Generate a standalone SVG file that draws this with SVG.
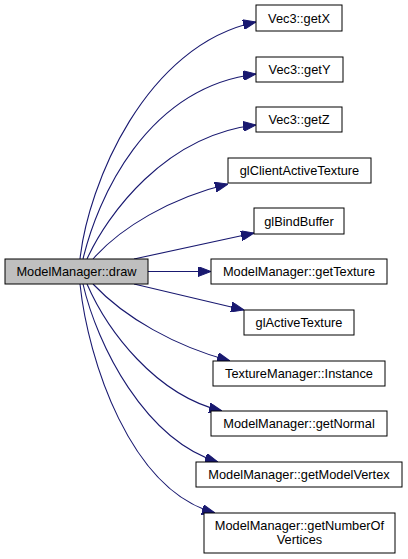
<svg xmlns="http://www.w3.org/2000/svg" width="408" height="559" viewBox="0 0 408 559">
<style>
.n rect{fill:#fff;stroke:#000;stroke-width:1}
.n.cur rect{fill:#bfbfbf}
.n text{font-family:"Liberation Sans",Arial,sans-serif;font-size:12.8px;text-anchor:middle;fill:#000}
.e path{fill:none;stroke:#191970;stroke-width:1.1}
</style>
<defs>
<marker id="ah" viewBox="0 0 13 10" refX="13" refY="5" markerWidth="13" markerHeight="10" markerUnits="userSpaceOnUse" orient="auto">
<path d="M0,0 L13,5 L0,10 Z" fill="#191970" stroke="#191970"/>
</marker>
</defs>
<g id="edges" class="e">
<path marker-end="url(#ah)" d="M80,259 C88,185 145,45 256,22"/>
<path marker-end="url(#ah)" d="M83,259 C97,200 145,88 256,74"/>
<path marker-end="url(#ah)" d="M87,259 C107,215 165,135 256,125"/>
<path marker-end="url(#ah)" d="M93,259 C120,228 170,198 228,184"/>
<path marker-end="url(#ah)" d="M134,259 L254,233"/>
<path marker-end="url(#ah)" d="M148,271.5 L211,271.5"/>
<path marker-end="url(#ah)" d="M134,284 L244,310"/>
<path marker-end="url(#ah)" d="M93,284 C125,318 175,346 230,361"/>
<path marker-end="url(#ah)" d="M87,284 C107,330 155,395 222,411"/>
<path marker-end="url(#ah)" d="M83,284 C97,345 145,440 218,462"/>
<path marker-end="url(#ah)" d="M80,284 C88,360 130,490 215,513"/>
</g>
<g id="draw" class="n cur"><rect x="5" y="259" width="143" height="25"/><text x="76.5" y="276">ModelManager::draw</text></g>
<g id="getX" class="n"><rect x="256" y="5" width="86" height="26"/><text x="299" y="23">Vec3::getX</text></g>
<g id="getY" class="n"><rect x="256" y="57" width="87" height="25"/><text x="299.5" y="74">Vec3::getY</text></g>
<g id="getZ" class="n"><rect x="256" y="107" width="86" height="25"/><text x="299" y="124">Vec3::getZ</text></g>
<g id="glClientActiveTexture" class="n"><rect x="228" y="158" width="143" height="25"/><text x="299.5" y="175">glClientActiveTexture</text></g>
<g id="glBindBuffer" class="n"><rect x="254" y="208" width="90" height="26"/><text x="299" y="226">glBindBuffer</text></g>
<g id="getTexture" class="n"><rect x="211" y="259" width="176" height="25"/><text x="299" y="276">ModelManager::getTexture</text></g>
<g id="glActiveTexture" class="n"><rect x="244" y="310" width="110" height="25"/><text x="299" y="327">glActiveTexture</text></g>
<g id="TextureManagerInstance" class="n"><rect x="213" y="361" width="172" height="25"/><text x="299" y="378">TextureManager::Instance</text></g>
<g id="getNormal" class="n"><rect x="211" y="411" width="176" height="25"/><text x="299" y="428">ModelManager::getNormal</text></g>
<g id="getModelVertex" class="n"><rect x="196" y="462" width="206" height="25"/><text x="299" y="479">ModelManager::getModelVertex</text></g>
<g id="getNumberOfVertices" class="n"><rect x="204" y="513" width="191" height="40"/><text x="299.5" y="530">ModelManager::getNumberOf</text><text x="299.5" y="544">Vertices</text></g>
</svg>
